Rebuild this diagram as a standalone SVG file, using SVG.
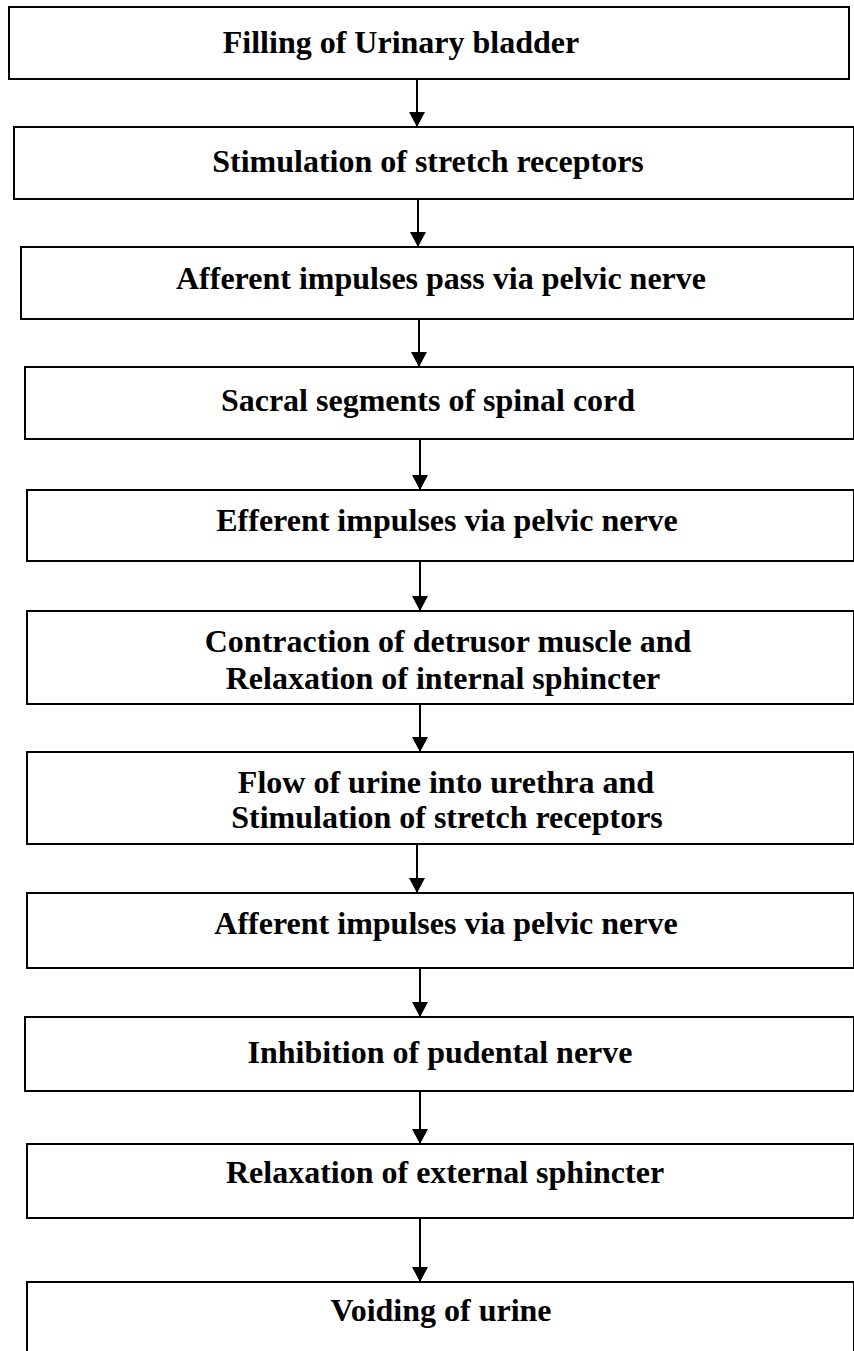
<svg xmlns="http://www.w3.org/2000/svg" width="854" height="1351" viewBox="0 0 854 1351">
<style>
.box{fill:#fff;stroke:#000;stroke-width:2}
.t{font-family:"Liberation Serif","Times New Roman",serif;font-weight:bold;font-size:32px;fill:#000;text-anchor:middle}
.c{stroke:#000;stroke-width:2;fill:none}
</style>
<defs>
<marker id="ah" markerWidth="15" markerHeight="16" refX="15" refY="8" orient="auto" markerUnits="userSpaceOnUse" viewBox="0 0 15 16">
<path d="M0,0 L15,8 L0,16 Z" fill="#000"/>
</marker>
</defs>
<rect width="854" height="1351" fill="#fff"/>
<g id="n1"><rect class="box" x="9" y="7" width="840" height="72"/><text class="t" x="401" y="53">Filling of Urinary bladder</text></g>
<g id="n2"><rect class="box" x="14" y="127" width="840" height="72"/><text class="t" x="428" y="172">Stimulation of stretch receptors</text></g>
<g id="n3"><rect class="box" x="21" y="247" width="833" height="72"/><text class="t" x="441" y="289">Afferent impulses pass via pelvic nerve</text></g>
<g id="n4"><rect class="box" x="25" y="367" width="829" height="72"/><text class="t" x="428" y="411">Sacral segments of spinal cord</text></g>
<g id="n5"><rect class="box" x="27" y="490" width="827" height="71"/><text class="t" x="447" y="531">Efferent impulses via pelvic nerve</text></g>
<g id="n6"><rect class="box" x="27" y="611" width="827" height="93"/><text class="t" x="448" y="652">Contraction of detrusor muscle and</text><text class="t" x="443" y="689">Relaxation of internal sphincter</text></g>
<g id="n7"><rect class="box" x="27" y="752" width="827" height="92"/><text class="t" x="446" y="793">Flow of urine into urethra and</text><text class="t" x="447" y="828">Stimulation of stretch receptors</text></g>
<g id="n8"><rect class="box" x="27" y="893" width="827" height="75"/><text class="t" x="446" y="934">Afferent impulses via pelvic nerve</text></g>
<g id="n9"><rect class="box" x="25" y="1017" width="829" height="74"/><text class="t" x="440" y="1063">Inhibition of pudental nerve</text></g>
<g id="n10"><rect class="box" x="27" y="1144" width="827" height="74"/><text class="t" x="445" y="1183">Relaxation of external sphincter</text></g>
<g id="n11"><rect class="box" x="27" y="1282" width="827" height="80"/><text class="t" x="441" y="1321">Voiding of urine</text></g>
<g id="connectors">
<line class="c" x1="417" y1="79" x2="417" y2="127" marker-end="url(#ah)"/>
<line class="c" x1="418" y1="199" x2="418" y2="247" marker-end="url(#ah)"/>
<line class="c" x1="419" y1="319" x2="419" y2="367" marker-end="url(#ah)"/>
<line class="c" x1="420" y1="439" x2="420" y2="490" marker-end="url(#ah)"/>
<line class="c" x1="420" y1="561" x2="420" y2="611" marker-end="url(#ah)"/>
<line class="c" x1="420" y1="704" x2="420" y2="752" marker-end="url(#ah)"/>
<line class="c" x1="417" y1="844" x2="417" y2="893" marker-end="url(#ah)"/>
<line class="c" x1="420" y1="968" x2="420" y2="1017" marker-end="url(#ah)"/>
<line class="c" x1="420" y1="1091" x2="420" y2="1144" marker-end="url(#ah)"/>
<line class="c" x1="420" y1="1218" x2="420" y2="1282" marker-end="url(#ah)"/>
</g>
</svg>
